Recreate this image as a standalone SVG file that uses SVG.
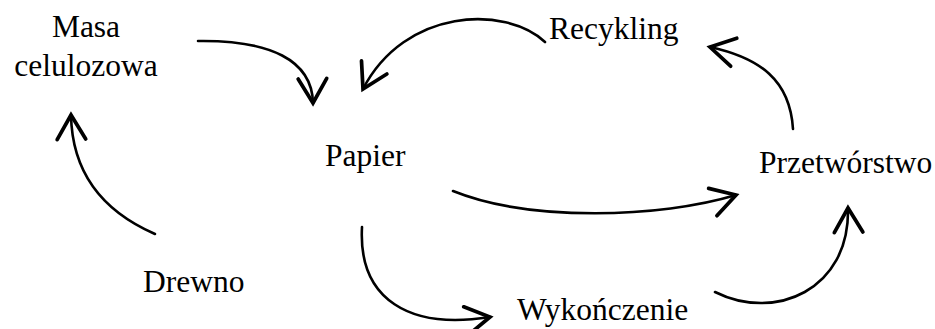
<svg xmlns="http://www.w3.org/2000/svg" width="935" height="329" viewBox="0 0 935 329">
  <style>
    .lbl { font-family: "Liberation Serif", "Times New Roman", serif; font-size: 31.5px; fill: #000; }
    .edge { fill: none; stroke: #000; stroke-width: 2.6; stroke-linecap: round; marker-end: url(#chev); }
  </style>
  <defs>
    <marker id="chev" markerUnits="userSpaceOnUse" markerWidth="40" markerHeight="40" refX="0" refY="0" viewBox="-22 -14 26 28" orient="auto">
      <path d="M-17,-10 L0,0 L-17,10" fill="none" stroke="#000" stroke-width="2.6" stroke-linecap="round" stroke-linejoin="miter"/>
    </marker>
  </defs>
  <rect width="935" height="329" fill="#fff"/>

  <g id="connectors">
    <path class="edge" d="M198,41 C270,40 312,60 313,103"/>
    <path class="edge" d="M545,42 C505,5 405,8 363,89"/>
    <path class="edge" d="M793,129 C790,80 760,58 710,47"/>
    <path class="edge" d="M453,191 C530,222 660,218 736,195"/>
    <path class="edge" d="M362,227 C358,300 410,330 490,317"/>
    <path class="edge" d="M715,292 C775,322 850,290 848,208"/>
    <path class="edge" d="M155,234 C100,210 72,170 71,115"/>
  </g>

  <g id="node-masa">
    <text class="lbl" x="86" y="37" text-anchor="middle">Masa</text>
    <text class="lbl" x="86" y="76" text-anchor="middle">celulozowa</text>
  </g>
  <g id="node-papier">
    <text class="lbl" x="325" y="166">Papier</text>
  </g>
  <g id="node-recykling">
    <text class="lbl" x="549" y="39">Recykling</text>
  </g>
  <g id="node-przetworstwo">
    <text class="lbl" x="759" y="173">Przetwórstwo</text>
  </g>
  <g id="node-drewno">
    <text class="lbl" x="143" y="292">Drewno</text>
  </g>
  <g id="node-wykonczenie">
    <text class="lbl" x="517" y="320">Wykończenie</text>
  </g>
</svg>
